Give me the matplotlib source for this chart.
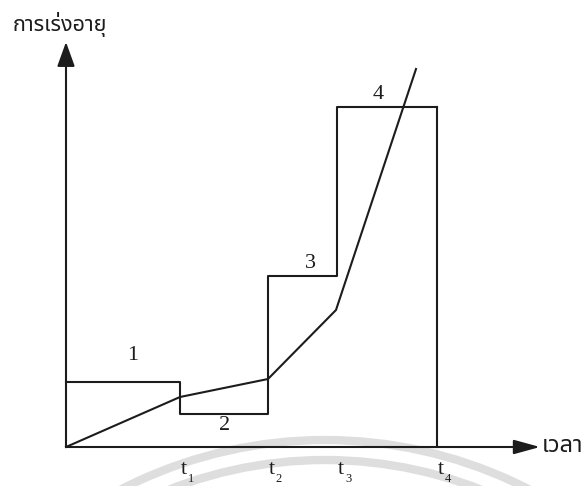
import matplotlib
matplotlib.use("Agg")
import matplotlib.pyplot as plt
from matplotlib.patches import Arc

# --- data (in pixel-like units from the origin) ---
t_pos = [114, 202, 271, 371]           # t1..t4
t_labels = ["1", "2", "3", "4"]
step_edges = [0, 114, 202, 271, 371]
step_heights = [65, 33, 171, 340]       # stress level of each step
step_names = ["1", "2", "3", "4"]
curve_x = [0, 114, 202, 270, 350]
curve_y = [0, 50, 68, 137, 378]

y_title = "การเร่งอายุ"
x_title = "เวลา"

thai = ["Noto Sans Thai", "DejaVu Sans"]
serif = ["Liberation Serif", "DejaVu Serif"]
ink = "#1c1c1c"

fig = plt.figure(figsize=(5.88, 4.86), dpi=100)
ax = fig.add_axes([0, 0, 1, 1])
ax.set_xlim(-66, 522)
ax.set_ylim(-39, 447)
ax.set_aspect("equal")
ax.axis("off")

# faint watermark rings at the bottom
for r in (446, 426):
    ax.add_patch(Arc((259, -439), 2 * r, 2 * r, theta1=40, theta2=140,
                     color="#dedede", lw=6, zorder=0))

# axes with arrows
ax.annotate("", xy=(0, 405), xytext=(0, 0),
            arrowprops=dict(arrowstyle="-|>,head_length=0.75,head_width=0.27",
                            mutation_scale=20, lw=1.5, color=ink, shrinkA=0, shrinkB=0))
ax.annotate("", xy=(474, 0), xytext=(0, 0),
            arrowprops=dict(arrowstyle="-|>,head_length=0.8,head_width=0.22",
                            mutation_scale=20, lw=1.5, color=ink, shrinkA=0, shrinkB=0))

# step stress profile
ax.plot(step_edges, step_heights + [step_heights[-1]], drawstyle="steps-post",
        color=ink, lw=1.5, zorder=3)
ax.plot([step_edges[-1], step_edges[-1]], [step_heights[-1], 0], color=ink, lw=1.5, zorder=3)

# accumulated damage curve
ax.plot(curve_x, curve_y, color=ink, lw=1.5, zorder=3)

# step numbers
name_pos = [(67, 92), (159, 22), (244, 184), (312, 352)]
for name, (x, y) in zip(step_names, name_pos):
    ax.text(x, y, name, family=serif, fontsize=16, ha="center", va="center", color=ink)

# time labels t1..t4
for x, lab in zip(t_pos, t_labels):
    ax.text(x + 4, -22, "t", family=serif, fontsize=16, ha="center", va="center", color=ink)
    ax.text(x + 11, -32, lab, family=serif, fontsize=9, ha="center", va="center", color=ink)

ax.text(-53, 422, y_title, family=thai, fontsize=15.5, ha="left", va="center", color=ink)
ax.text(476, 1, x_title, family=thai, fontsize=17, ha="left", va="center", color=ink)

fig.savefig("out.png", dpi=100, facecolor="white")
